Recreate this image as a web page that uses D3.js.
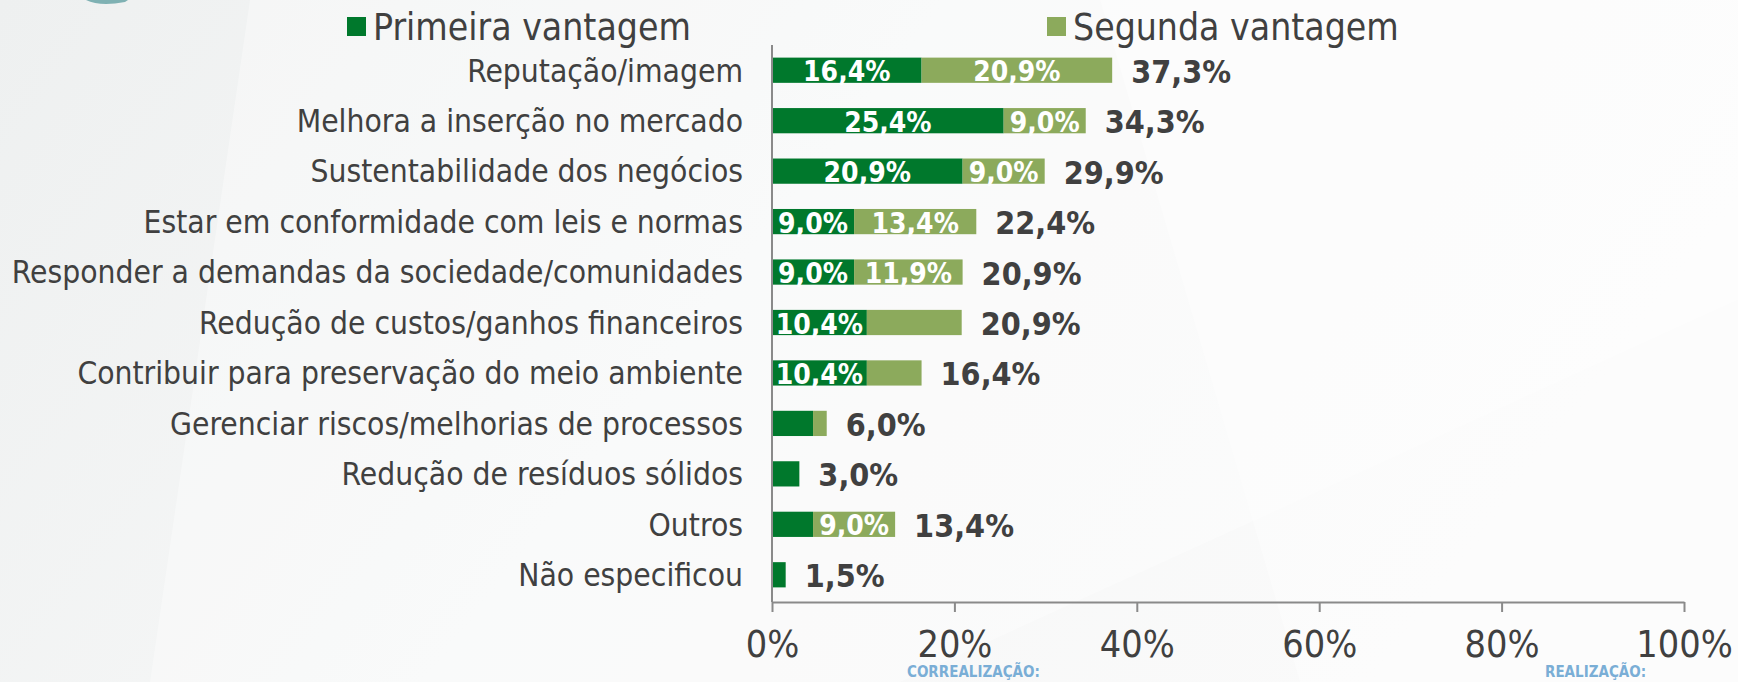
<!DOCTYPE html>
<html>
<head>
<meta charset="utf-8">
<script src="https://cdn.jsdelivr.net/npm/d3@7"></script>
<style>
  html, body { margin: 0; padding: 0; background: #f4f5f5; }
  svg { display: block; }
</style>
</head>
<body>
<svg id="chart" width="1738" height="682"></svg>
<script>
// ---------- DATA ----------
const categories = [
  "Reputação/imagem",
  "Melhora a inserção no mercado",
  "Sustentabilidade dos negócios",
  "Estar em conformidade com leis e normas",
  "Responder a demandas da sociedade/comunidades",
  "Redução de custos/ganhos financeiros",
  "Contribuir para preservação do meio ambiente",
  "Gerenciar riscos/melhorias de processos",
  "Redução de resíduos sólidos",
  "Outros",
  "Não especificou"
];
const primeira = [16.4, 25.4, 20.9, 9.0, 9.0, 10.4, 10.4, 4.5, 3.0, 4.5, 1.5];
const segunda  = [20.9, 9.0, 9.0, 13.4, 11.9, 10.4, 6.0, 1.5, 0, 9.0, 0];
const totals   = [37.3, 34.3, 29.9, 22.4, 20.9, 20.9, 16.4, 6.0, 3.0, 13.4, 1.5];
const primeiraLabels = ["16,4%", "25,4%", "20,9%", "9,0%", "9,0%", "10,4%", "10,4%", null, null, null, null];
const segundaLabels  = ["20,9%", "9,0%", "9,0%", "13,4%", "11,9%", null, null, null, null, "9,0%", null];
const totalLabels    = ["37,3%", "34,3%", "29,9%", "22,4%", "20,9%", "20,9%", "16,4%", "6,0%", "3,0%", "13,4%", "1,5%"];
const seriesNames = ["Primeira vantagem", "Segunda vantagem"];
const tickValues = [0, 20, 40, 60, 80, 100];
const tickLabels = ["0%", "20%", "40%", "60%", "80%", "100%"];

// ---------- SETUP ----------
const W = 1738, H = 682;
const colors = ["#00782c", "#8caa5c"];
const textColor = "#404040";
const axisColor = "#8a8a8a";
const condensed = "'DejaVu Sans Condensed', 'DejaVu Sans', sans-serif";
const narrow = "'Liberation Sans Narrow', 'Arial Narrow', 'DejaVu Sans Condensed', sans-serif";

const svg = d3.select("#chart");

// background
const defs = svg.append("defs");
const bg = defs.append("linearGradient").attr("id", "bg").attr("x1", 0).attr("y1", 0).attr("x2", 1).attr("y2", 0.3);
bg.append("stop").attr("offset", 0).attr("stop-color", "#eef0f0");
bg.append("stop").attr("offset", 0.5).attr("stop-color", "#f6f7f7");
bg.append("stop").attr("offset", 1).attr("stop-color", "#fafafa");
svg.append("rect").attr("width", W).attr("height", H).attr("fill", "url(#bg)");
// faint light facets
svg.append("path").attr("d", "M250,0 L1738,0 L1738,300 L900,682 L150,682 Z").attr("fill", "#ffffff").attr("opacity", 0.35);
svg.append("path").attr("d", "M1100,0 L1738,0 L1738,682 L1300,682 Z").attr("fill", "#ffffff").attr("opacity", 0.35);
// teal swoosh sliver at top-left
svg.append("path").attr("d", "M86,0 Q100,7 125,2 L128,0 Z").attr("fill", "#7fb1b3");

const x = d3.scaleLinear().domain([0, 100]).range([772, 1684]);
const y = d3.scaleBand().domain(categories).range([45, 600]).paddingInner(0.5).paddingOuter(0.25);
const axisY = 602;

// ---------- BARS ----------
const rows = categories.map((c, i) => ({
  cat: c, p: primeira[i], s: segunda[i], t: totals[i],
  pl: primeiraLabels[i], sl: segundaLabels[i], tl: totalLabels[i]
}));

const g = svg.append("g");
const row = g.selectAll("g.row").data(rows).join("g").attr("class", "row");

row.append("rect")
  .attr("x", x(0))
  .attr("y", d => y(d.cat))
  .attr("width", d => x(d.p) - x(0))
  .attr("height", y.bandwidth())
  .attr("fill", colors[0]);

row.filter(d => d.s > 0).append("rect")
  .attr("x", d => x(d.p))
  .attr("y", d => y(d.cat))
  .attr("width", d => x(d.p + d.s) - x(d.p))
  .attr("height", y.bandwidth())
  .attr("fill", colors[1]);

const labelFont = 28;
row.filter(d => d.pl).append("text")
  .attr("x", d => (x(0) + x(d.p)) / 2)
  .attr("y", d => y(d.cat) + y.bandwidth() / 2 + 11)
  .attr("text-anchor", "middle")
  .attr("font-family", condensed).attr("font-weight", "bold").attr("font-size", labelFont)
  .attr("fill", "#ffffff")
  .text(d => d.pl);

row.filter(d => d.sl).append("text")
  .attr("x", d => (x(d.p) + x(d.p + d.s)) / 2)
  .attr("y", d => y(d.cat) + y.bandwidth() / 2 + 11)
  .attr("text-anchor", "middle")
  .attr("font-family", condensed).attr("font-weight", "bold").attr("font-size", labelFont)
  .attr("fill", "#ffffff")
  .text(d => d.sl);

row.append("text")
  .attr("x", d => x(d.p + d.s) + 19)
  .attr("y", d => y(d.cat) + y.bandwidth() / 2 + 12.5)
  .attr("font-family", condensed).attr("font-weight", "bold").attr("font-size", 32)
  .attr("fill", textColor)
  .text(d => d.tl);

// ---------- AXES ----------
const xAxis = d3.axisBottom(x).tickValues(tickValues)
  .tickFormat((d, i) => tickLabels[i]).tickSize(10).tickSizeOuter(0);
const gx = svg.append("g").attr("transform", `translate(0,${axisY})`).call(xAxis);
gx.select(".domain").attr("stroke", axisColor).attr("stroke-width", 2);
gx.selectAll(".tick line").attr("stroke", axisColor).attr("stroke-width", 2);
gx.selectAll(".tick text")
  .attr("y", 55).attr("dy", null)
  .attr("font-family", narrow).attr("font-size", 37.5)
  .attr("fill", textColor);

const yAxis = d3.axisLeft(y).tickSize(0).tickPadding(29);
const gy = svg.append("g").attr("transform", `translate(${x(0)},0)`).call(yAxis);
gy.select(".domain").remove();
gy.selectAll(".tick text")
  .attr("dy", "0.36em")
  .attr("font-family", condensed).attr("font-size", 31.5)
  .attr("fill", textColor);
svg.append("line")
  .attr("x1", x(0)).attr("x2", x(0))
  .attr("y1", y.range()[0]).attr("y2", axisY)
  .attr("stroke", axisColor).attr("stroke-width", 2);

// ---------- LEGEND ----------
const legendX = [347, 1047];
const leg = svg.append("g").selectAll("g").data(seriesNames).join("g")
  .attr("transform", (d, i) => `translate(${legendX[i]},17)`);
leg.append("rect").attr("width", 19).attr("height", 19).attr("fill", (d, i) => colors[i]);
leg.append("text").attr("x", 26).attr("y", 22.5)
  .attr("font-family", condensed).attr("font-size", 37)
  .attr("fill", textColor)
  .text(d => d);

// ---------- FOOTER ----------
const footer = [["CORREALIZAÇÃO:", 907], ["REALIZAÇÃO:", 1545]];
svg.append("g").selectAll("text").data(footer).join("text")
  .attr("x", d => d[1]).attr("y", 677)
  .attr("font-family", condensed).attr("font-weight", "bold").attr("font-size", 15)
  .attr("fill", "#7aaed6")
  .text(d => d[0]);
</script>
</body>
</html>
